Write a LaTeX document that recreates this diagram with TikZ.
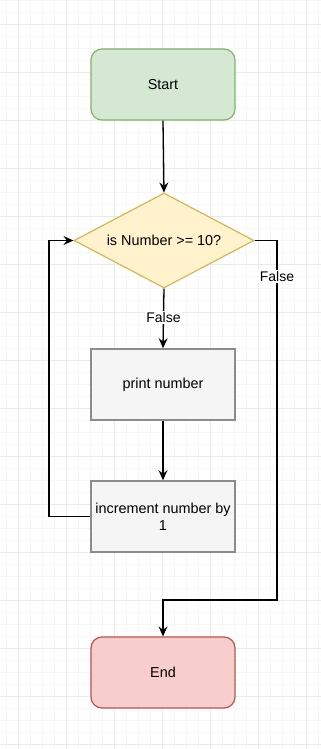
\documentclass[tikz,border=0pt]{standalone}
\usepackage{fontspec}
\setmainfont{Liberation Sans}
\usetikzlibrary{shapes.geometric,arrows.meta}
\definecolor{gridminor}{HTML}{F6F6F6}
\definecolor{gridmajor}{HTML}{EAEAEA}
\definecolor{startfill}{HTML}{D5E8D4}
\definecolor{startline}{HTML}{82B366}
\definecolor{decfill}{HTML}{FFF2CC}
\definecolor{decline}{HTML}{D6B656}
\definecolor{procfill}{HTML}{F5F5F5}
\definecolor{procline}{HTML}{8C8C8C}
\definecolor{endfill}{HTML}{F8CECC}
\definecolor{endline}{HTML}{B85450}
\tikzset{
  base/.style={font=\fontsize{14.4}{17}\selectfont, text=black, inner sep=0pt, align=center},
  terminal/.style={base, rectangle, rounded corners=11pt, minimum width=144pt, minimum height=71pt, line width=1.2pt},
  process/.style={base, rectangle, minimum width=144pt, minimum height=71pt, line width=1.6pt, fill=procfill, draw=procline},
  decision/.style={base, diamond, aspect=1.9, minimum width=180pt, minimum height=95pt, line width=1.2pt, fill=decfill, draw=decline},
  flow/.style={line width=1.3pt, -{Stealth[length=10pt,width=9pt,inset=3.5pt]}},
  lbl/.style={font=\fontsize{14}{16}\selectfont, fill=white, inner sep=1.5pt}
}
\begin{document}
\begin{tikzpicture}[x=1pt,y=-1pt]
  \useasboundingbox (0,0) rectangle (321,749);
  \fill[white] (0,0) rectangle (321,749);
  % background grid
  \foreach \gx in {6,18,...,321} \draw[gridminor, line width=0.8pt] (\gx,0) -- (\gx,749);
  \foreach \gy in {0,12,...,749} \draw[gridminor, line width=0.8pt] (0,\gy) -- (321,\gy);
  \foreach \gx in {18,66,...,321} \draw[gridmajor, line width=0.8pt] (\gx,0) -- (\gx,749);
  \foreach \gy in {24,72,...,749} \draw[gridmajor, line width=0.8pt] (0,\gy) -- (321,\gy);

  % nodes
  \node[terminal, fill=startfill, draw=startline] (start) at (163,84.5) {Start};
  \node[decision] (check) at (164,240.5) {is Number >= 10?};
  \node[process] (print) at (163,384.5) {print number};
  \node[process] (inc) at (163,516.5) {increment number by\\1};
  \node[terminal, fill=endfill, draw=endline] (end) at (163,672.5) {End};

  % connectors
  \coordinate (rightturn) at (277,240.5);
  \coordinate (rightdown) at (277,600);
  \coordinate (leftturn) at (49,516.5);

  \draw[flow] (start.south) -- (check.north);
  \draw[flow] (check.south) -- node[lbl, pos=0.49] {False} (print.north);
  \draw[flow] (print.south) -- (inc.north);
  \draw[flow] (inc.west) -- (leftturn) |- (check.west);
  \draw[flow] (check.east) -- (rightturn) -- node[lbl, pos=0.1] {False} (rightdown) -| (end.north);
\end{tikzpicture}
\end{document}
